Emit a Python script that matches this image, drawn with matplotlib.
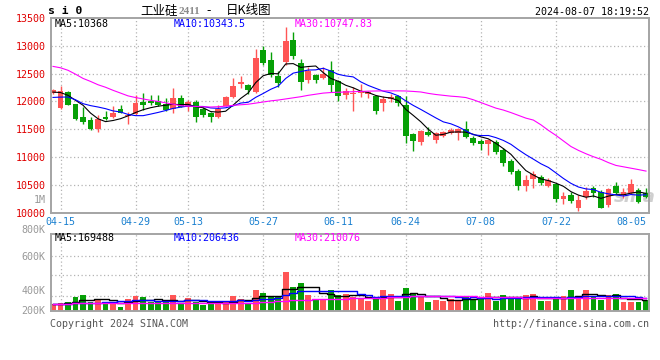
import numpy as np
import pandas as pd
import matplotlib
matplotlib.use('Agg')
import matplotlib.pyplot as plt

# trading days shown (2024)
dates = ['04-12',
         '04-15', '04-16', '04-17', '04-18', '04-19',
         '04-22', '04-23', '04-24', '04-25', '04-26',
         '04-29', '04-30',
         '05-06', '05-07', '05-08', '05-09', '05-10',
         '05-13', '05-14', '05-15', '05-16', '05-17',
         '05-20', '05-21', '05-22', '05-23', '05-24',
         '05-27', '05-28', '05-29', '05-30', '05-31',
         '06-03', '06-04', '06-05', '06-06', '06-07',
         '06-11', '06-12', '06-13', '06-14',
         '06-17', '06-18', '06-19', '06-20', '06-21',
         '06-24', '06-25', '06-26', '06-27', '06-28',
         '07-01', '07-02', '07-03', '07-04', '07-05',
         '07-08', '07-09', '07-10', '07-11', '07-12',
         '07-15', '07-16', '07-17', '07-18', '07-19',
         '07-22', '07-23', '07-24', '07-25', '07-26',
         '07-29', '07-30', '07-31',
         '08-01', '08-02',
         '08-05', '08-06', '08-07']

opens = [12144, 11886, 12173, 11952, 11713, 11665, 11503, 11719, 11719, 11862,
         11740, 11767, 11994, 12007, 12007, 11952, 11868, 12054, 11904, 11994,
         11856, 11796, 11724, 11922, 12072, 12306, 12293, 12173, 12922, 12742,
         12455, 12712, 13102, 12694, 12383, 12473, 12425, 12563, 12366, 12114,
         12132, 12144, 12140, 12096, 11976, 12036, 12096, 11934, 11413, 11264,
         11455, 11305, 11383, 11437, 11425, 11503, 11347, 11287, 11228, 11275,
         11126, 10929, 10754, 10479, 10611, 10647, 10479, 10515, 10241, 10318,
         10090, 10287, 10438, 10377, 10138, 10479, 10318, 10348, 10408, 10359]
highs = [12227, 12276, 12190, 11960, 11893, 11724, 11749, 11826, 11916, 11940,
         11810, 12108, 12155, 12114, 12114, 12066, 12240, 12114, 12030, 12024,
         11900, 11810, 11934, 12096, 12425, 12455, 12310, 12935, 12994, 12892,
         12545, 13341, 13251, 12755, 12622, 12500, 12622, 12730, 12380, 12234,
         12263, 12311, 12190, 12110, 12096, 12132, 12110, 12096, 11430, 11480,
         11545, 11455, 11470, 11527, 11527, 11652, 11380, 11320, 11320, 11300,
         11160, 10960, 10780, 10677, 10754, 10670, 10620, 10540, 10377, 10377,
         10318, 10467, 10480, 10400, 10440, 10557, 10440, 10600, 10440, 10438]
lows = [12130, 11870, 11930, 11660, 11598, 11485, 11455, 11670, 11695, 11785,
        11593, 11760, 11850, 11929, 11925, 11820, 11796, 11895, 11826, 11634,
        11720, 11634, 11710, 11910, 12060, 12234, 12132, 12160, 12653, 12432,
        12263, 12653, 12755, 12204, 12335, 12335, 12400, 12173, 12012, 12050,
        11832, 12072, 12060, 11773, 11832, 11990, 11920, 11257, 11113, 11216,
        11370, 11257, 11360, 11420, 11305, 11350, 11210, 11126, 11036, 11060,
        10839, 10700, 10408, 10395, 10438, 10500, 10460, 10200, 10156, 10180,
        10031, 10250, 10287, 10090, 10110, 10330, 10260, 10330, 10180, 10270]
closes = [12204, 12191, 11940, 11688, 11634, 11503, 11677, 11683, 11790, 11796,
          11760, 11976, 11934, 11970, 11934, 11845, 12060, 11904, 11994, 11724,
          11755, 11713, 11856, 12072, 12276, 12353, 12204, 12784, 12694, 12473,
          12335, 13084, 12815, 12353, 12551, 12383, 12491, 12293, 12096, 12191,
          12155, 12191, 12170, 11832, 12042, 12072, 11964, 11377, 11287, 11473,
          11395, 11431, 11455, 11485, 11497, 11365, 11245, 11228, 11305, 11095,
          10886, 10736, 10479, 10587, 10695, 10539, 10587, 10246, 10305, 10216,
          10228, 10395, 10359, 10090, 10420, 10359, 10377, 10515, 10198, 10287]
volumes = [117000, 123000, 144000, 224000, 256000, 144000, 192000, 123000, 144000, 64000,
           192000, 240000, 224000, 144000, 144000, 144000, 256000, 123000, 208000, 149000,
           96000, 133000, 144000, 144000, 240000, 192000, 133000, 336000, 288000, 240000,
           240000, 624000, 384000, 448000, 256000, 176000, 176000, 336000, 256000, 272000,
           224000, 192000, 160000, 192000, 336000, 272000, 160000, 368000, 288000, 240000,
           144000, 176000, 160000, 192000, 176000, 224000, 192000, 224000, 288000, 160000,
           256000, 192000, 192000, 256000, 272000, 160000, 160000, 224000, 240000, 336000,
           224000, 336000, 224000, 176000, 256000, 272000, 144000, 144000, 144000, 176000]

# moving-average values before enough bars are on screen
ma5_head = [12168, 12160, 12110, 12020]
ma10_head = [12072, 12078, 12080, 12030, 11960, 11925, 11900, 11870, 11830]
ma30 = [12630, 12605, 12560, 12490, 12414, 12360, 12300, 12255, 12200, 12150,
        12100, 12070, 12045, 12020, 12000, 11975, 11950, 11925, 11915, 11910,
        11905, 11900, 11905, 11915, 11930, 11940, 11950, 11970, 11990, 12010,
        12025, 12045, 12065, 12085, 12110, 12130, 12150, 12160, 12165, 12170,
        12175, 12180, 12185, 12188, 12190, 12190, 12190, 12188, 12180, 12170,
        12145, 12125, 12110, 12095, 12085, 12070, 12030, 11980, 11930, 11880,
        11845, 11800, 11750, 11700, 11665, 11580, 11480, 11390, 11290, 11190,
        11120, 11060, 11006, 10960, 10900, 10850, 10825, 10800, 10775, 10748]
vol_ma5_head = [110000, 110000, 125000, 150000]
vol_ma10_head = [115000, 115000, 118000, 122000, 128000, 133000, 135000, 140000, 145000]
vol_ma30 = [117000, 117000, 118000, 120000, 120000, 122000, 123000, 123000, 125000, 125000,
            126000, 126000, 128000, 128000, 130000, 130000, 131000, 131000, 133000, 133000,
            133000, 133000, 133000, 133000, 133000, 133000, 133000, 133000, 141000, 147000,
            155000, 165000, 170000, 174000, 179000, 184000, 187000, 190000, 194000, 197000,
            200000, 202000, 203000, 208000, 213000, 218000, 222000, 229000, 232000, 232000,
            232000, 232000, 232000, 240000, 237000, 237000, 237000, 230000, 230000, 230000,
            224000, 224000, 224000, 214000, 214000, 214000, 206000, 206000, 205000, 205000,
            205000, 204000, 204000, 204000, 205000, 206000, 207000, 208000, 209000, 210000]

price_ticks = [10000, 10500, 11000, 11500, 12000, 12500, 13000, 13500]
grid_dates = ['04-15', '04-29', '05-13', '05-27', '06-11', '06-24', '07-08', '07-22']
label_dates = grid_dates + ['08-05']
vol_labels = ['1M', '800K', '600K', '400K', '200K']
legend_price = ['MA5:10368', 'MA10:10343.5', 'MA30:10747.83']
legend_vol = ['MA5:169488', 'MA10:206436', 'MA30:210076']


def moving_avg(values, n, head):
    ma = pd.Series(values, dtype=float).rolling(n).mean()
    ma.iloc[:len(head)] = head
    return ma.to_numpy()


W, H = 660, 360
RED = '#ff5555'
GREEN = '#06a006'
GRIDC = '#b4b4b4'
FRAME = '#a4a4a4'
MONO = 'DejaVu Sans Mono'
CJK = ['Noto Sans CJK SC', 'DejaVu Sans']
LINE_COLORS = ['black', '#0000ff', '#ff00ff']

fig = plt.figure(figsize=(W / 100, H / 100), dpi=100)
fig.patch.set_facecolor('white')


def put(px, py, s, **kw):
    kw.setdefault('va', 'center')
    return fig.text(px / W, 1 - py / H, s, **kw)


left, right = 50.6, 649.3
ax = fig.add_axes([left / W, 1 - 212.7 / H, (right - left) / W, 194.7 / H])
axv = fig.add_axes([left / W, 1 - 311 / H, (right - left) / W, 76.7 / H])

x = np.arange(len(dates))
o = np.array(opens, float)
c = np.array(closes, float)
up = c >= o
colors = np.where(up, RED, GREEN)

# candles
ax.vlines(x, lows, highs, colors=colors, lw=1, zorder=2)
ax.bar(x, np.maximum(np.abs(c - o), 12), bottom=np.minimum(o, c),
       width=0.78, color=colors, linewidth=0, zorder=2)

ma5 = moving_avg(closes, 5, ma5_head)
ma10 = moving_avg(closes, 10, ma10_head)
for ma, col in zip([ma5, ma10, ma30], LINE_COLORS):
    ax.plot(x, ma, color=col, lw=0.8, zorder=3)

# volume
axv.bar(x, volumes, width=0.78, color=colors, linewidth=0, zorder=2)
vma5 = moving_avg(volumes, 5, vol_ma5_head)
vma10 = moving_avg(volumes, 10, vol_ma10_head)
for ma, col in zip([vma5, vma10, vol_ma30], LINE_COLORS):
    axv.plot(x, ma, color=col, lw=1.0, drawstyle='steps-mid', zorder=3)

xmin, xmax = -0.32, len(dates) - 1 + 0.44
vol_top = 1.227e6
for a in (ax, axv):
    a.set_xlim(xmin, xmax)
    for s in a.spines.values():
        s.set_color(FRAME)
        s.set_linewidth(1.4)
    for d in grid_dates:
        a.axvline(dates.index(d), color=GRIDC, lw=0.9, ls=(0, (1, 2)), zorder=1)

ax.set_ylim(price_ticks[0], price_ticks[-1])
for p in price_ticks[1:-1]:
    ax.axhline(p, color=GRIDC, lw=0.9, ls=(0, (1, 2)), zorder=1)
ax.set_yticks(price_ticks)
ax.set_yticklabels([str(p) for p in price_ticks], fontfamily=MONO)
ax.tick_params(axis='y', length=0, pad=3.3, labelcolor='#e00000', labelsize=7.2)
ax.set_xticks([dates.index(d) for d in label_dates])
ax.set_xticklabels(label_dates, fontfamily=MONO)
ax.tick_params(axis='x', length=0, pad=3.3, labelcolor='#1a80d0', labelsize=7.2)

axv.set_ylim(0, vol_top)
for f in (0.721, 0.469, 0.199):
    axv.axhline(f * vol_top, color=GRIDC, lw=0.9, ls=(0, (1, 2)), zorder=1)
axv.set_xticks([])
axv.set_yticks([])

# volume scale labels
for lab, py in zip(vol_labels, [200.3, 230, 256.7, 290.7, 311]):
    put(45.7, py, lab, ha='right', color='#999999', fontsize=7.2, family=MONO)

# header
put(48.5, 11, 's i 0', fontsize=8.2, fontweight='bold', family=MONO)
put(140, 10.7, '工业硅', fontsize=9, family=CJK)
put(178.5, 11.2, '2411', fontsize=8, fontweight='bold', color='#8a8a8a',
    family='Liberation Serif')
put(206, 10.7, '-', fontsize=9, family=CJK)
put(226, 10.7, '日K线图', fontsize=9, family=CJK)
put(649, 11.7, '2024-08-07 18:19:52', ha='right', fontsize=7.2, family=MONO)

# legends
for txt, px, col in zip(legend_price, [55, 174, 295], LINE_COLORS):
    put(px, 24, txt, fontsize=7.2, family=MONO, color=col)
for txt, px, col in zip(legend_vol, [55, 174, 295], LINE_COLORS):
    put(px, 238.3, txt, fontsize=7.2, family=MONO, color=col)

# footer
put(50, 324, 'Copyright 2024 SINA.COM', fontsize=7.2, family=MONO, color='#555555')
put(649, 324, 'http://finance.sina.com.cn', ha='right', fontsize=7.2, family=MONO,
    color='#555555')

# watermark
ax.text(635 / W, 1 - 197 / H, 'sina', transform=fig.transFigure, ha='center',
        va='center', fontsize=13, fontstyle='italic', fontweight='bold',
        color='#c4c4c4', alpha=0.8, zorder=1.5)

fig.savefig('out.png', dpi=100, facecolor='white')
